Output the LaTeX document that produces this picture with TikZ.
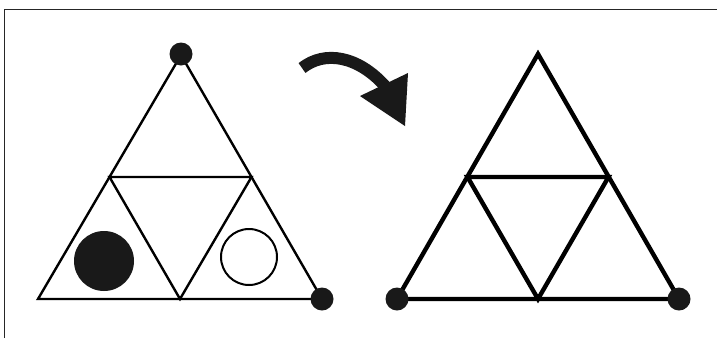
\documentclass[tikz,border=0pt]{standalone}
\begin{document}
\begin{tikzpicture}[x=1pt,y=-1pt,
  thinedge/.style={line width=2.4pt,line join=miter},
  thickedge/.style={line width=4.4pt,line join=miter},
  dotmark/.style={circle,fill=black!90,inner sep=0pt,minimum size=23pt},
  frameline/.style={line width=1pt,black!85}]
\useasboundingbox (0,0) rectangle (717,338);
% frame
\coordinate (fl) at (4.5,338);
\coordinate (fc) at (4.5,9.5);
\coordinate (fr) at (717,9.5);
\draw[frameline] (fl) -- (fc) -- (fr);
% left triangle
\coordinate (La) at (181,55);
\coordinate (Lb) at (38,299);
\coordinate (Lc) at (322,299);
\coordinate (Lm1) at (109.5,177);
\coordinate (Lm2) at (251.5,177);
\coordinate (Lm3) at (180,299);
\draw[thinedge] (La) -- (Lb) -- (Lc) -- cycle;
\draw[thinedge] (Lm1) -- (Lm2) -- (Lm3) -- cycle;
\node[circle,fill=black!90,inner sep=0pt,minimum size=60pt] (fc1) at (104,261) {};
\node[circle,draw,line width=2pt,inner sep=0pt,minimum size=56pt] (oc1) at (249,257) {};
\node[dotmark] (d1) at (181,54) {};
\node[dotmark] (d2) at (322,299) {};
% curved arrow
\coordinate (as) at (302,68);
\coordinate (ae) at (385,86);
\coordinate (h1) at (360,96);
\coordinate (h2) at (408,73);
\coordinate (h3) at (405,126);
\draw[line width=12pt,black!90] (as) .. controls (325,50) and (358,56) .. (ae);
\fill[black!90] (h1) -- (h2) -- (h3) -- cycle;
% right triangle
\coordinate (Ra) at (538,54);
\coordinate (Rb) at (397,299);
\coordinate (Rc) at (679,299);
\coordinate (Rm1) at (467.5,177);
\coordinate (Rm2) at (608.5,177);
\coordinate (Rm3) at (538,299);
\draw[thickedge] (Ra) -- (Rb) -- (Rc) -- cycle;
\draw[thickedge] (Rm1) -- (Rm2) -- (Rm3) -- cycle;
\node[dotmark] (d3) at (397,299) {};
\node[dotmark] (d4) at (679,299) {};
\end{tikzpicture}
\end{document}
